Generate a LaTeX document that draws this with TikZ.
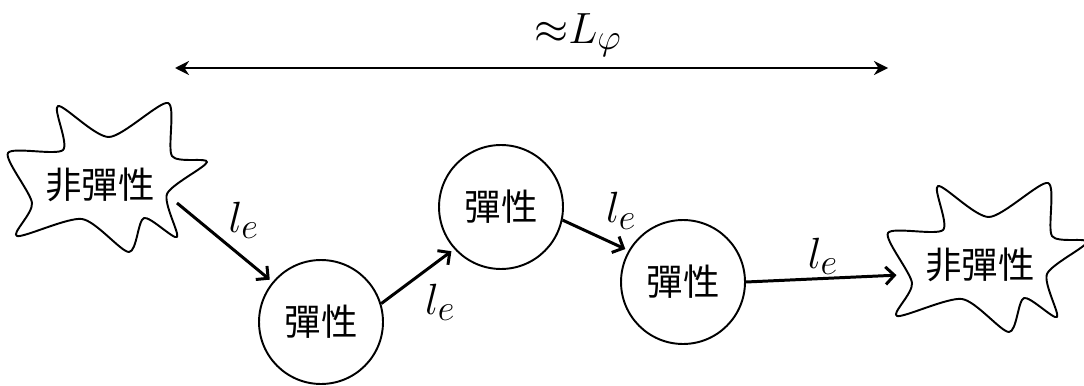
\documentclass[tikz,border=0pt]{standalone}
\usepackage{fontspec}
\newfontfamily\cjk{Noto Sans CJK TC}
\usetikzlibrary{arrows.meta}

\begin{document}
\begin{tikzpicture}[x=0.02cm, y=-0.02cm, line join=round,
    every node/.style={font=\Huge},
    cjktext/.style={font=\cjk\huge},
    elastic/.style={circle, draw, line width=1.1pt, minimum size=2.48cm, inner sep=0pt, font=\cjk\huge},
    hop/.style={-{Straight Barb[length=5pt,width=10pt]}, line width=1.7pt, shorten >=2pt},
    span/.style={{Stealth[length=8pt,width=8pt]}-{Stealth[length=8pt,width=8pt]}, line width=1.1pt},
    burst/.pic={
      % explosion outline, origin at the left spike
      \draw[line width=1.1pt] plot[smooth cycle, tension=0.45] coordinates {
        (0,0) (55,-3) (50,-47) (101,-16) (160,-50) (164,3) (199,9)
        (159,41) (169,84) (136,65) (121,99) (74,66) (9,83) (24,50)};
      \node[cjktext] (-txt) at (92,32) {非彈性};
      \coordinate (-out) at (169,50);
      \coordinate (-in) at (12,42);
    }]
  \useasboundingbox (0,0) rectangle (1084,385);

  % coherence length on top
  \coordinate (span-l) at (175,68);
  \coordinate (span-r) at (888,68);
  \draw[span] (span-l) -- (span-r);
  \node[inner sep=0pt] (Lphi) at (578,35) {${\approx}L_\varphi$};

  % inelastic events at both ends
  \pic (inL) at (8,153) {burst};
  \pic (inR) at (888,233) {burst};

  % elastic scatterings
  \node[elastic] (el1) at (321,322) {彈性};
  \node[elastic] (el2) at (501,207) {彈性};
  \node[elastic] (el3) at (683,282) {彈性};

  % free paths
  \draw[hop] (inL-out) -- (el1) node[midway, above right=-2pt] {$l_e$};
  \draw[hop] (el1.17) -- (el2.222) node[midway, below right=0pt] {$l_e$};
  \draw[hop] (el2.-12) -- (el3.150) node[pos=0.55, above right=0pt] {$l_e$};
  \draw[hop] (el3.east) -- (inR-in) node[midway, above=-2pt] {$l_e$};
\end{tikzpicture}
\end{document}
